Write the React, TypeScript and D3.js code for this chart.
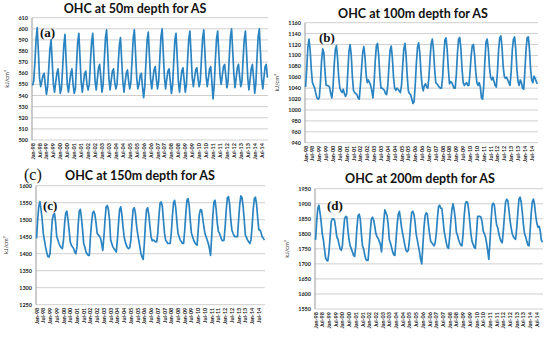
import * as d3 from 'd3';

// monthly OHC, Jan-98 .. Dec-14 (kJ/cm²), 12 values per row
const ohc50 = [
  549, 553, 570, 590, 601, 580, 556, 548, 553, 558, 560, 550,
  541, 548, 565, 582, 590, 570, 550, 543, 552, 560, 564, 552,
  542, 547, 565, 585, 595, 572, 550, 543, 552, 560, 564, 550,
  542, 546, 568, 588, 596, 574, 552, 543, 552, 560, 562, 550,
  545, 550, 570, 588, 596, 575, 553, 545, 555, 565, 568, 556,
  543, 550, 572, 592, 599, 578, 555, 545, 554, 562, 564, 552,
  546, 550, 568, 585, 592, 572, 553, 543, 552, 560, 563, 553,
  546, 552, 572, 592, 599, 578, 556, 546, 550, 558, 560, 548,
  538, 548, 570, 590, 597, 576, 555, 546, 555, 563, 566, 555,
  546, 553, 574, 593, 600, 578, 556, 546, 555, 562, 564, 553,
  542, 549, 570, 590, 596, 575, 553, 543, 553, 562, 565, 554,
  543, 550, 572, 591, 598, 577, 556, 548, 556, 563, 565, 555,
  548, 553, 574, 592, 599, 578, 557, 548, 556, 564, 566, 552,
  537, 549, 572, 591, 598, 578, 558, 550, 558, 566, 568, 558,
  547, 553, 574, 593, 600, 580, 559, 547, 556, 565, 568, 557,
  548, 553, 573, 591, 598, 578, 556, 545, 554, 564, 568, 556,
  542, 551, 574, 593, 600, 578, 555, 546, 556, 566, 568, 556,
];

const ohc100 = [
  1042, 1075, 1115, 1130, 1110, 1075, 1050, 1045, 1040, 1030, 1022, 1020,
  1022, 1050, 1090, 1112, 1105, 1070, 1045, 1045, 1044, 1042, 1030, 1022,
  1040, 1080, 1110, 1118, 1095, 1060, 1040, 1035, 1032, 1038, 1030, 1025,
  1030, 1070, 1108, 1120, 1100, 1060, 1035, 1032, 1030, 1028, 1022, 1020,
  1045, 1075, 1105, 1116, 1098, 1065, 1050, 1055, 1050, 1045, 1035, 1022,
  1050, 1090, 1118, 1122, 1100, 1065, 1040, 1040, 1038, 1036, 1030, 1028,
  1045, 1080, 1110, 1117, 1095, 1060, 1040, 1036, 1040, 1038, 1035, 1032,
  1045, 1080, 1112, 1122, 1100, 1062, 1035, 1030, 1028, 1020, 1012, 1015,
  1045, 1085, 1115, 1123, 1105, 1070, 1045, 1035, 1045, 1048, 1042, 1040,
  1060, 1095, 1122, 1130, 1110, 1075, 1050, 1048, 1045, 1042, 1040, 1040,
  1060, 1100, 1128, 1132, 1110, 1075, 1048, 1052, 1050, 1045, 1040, 1040,
  1065, 1105, 1130, 1133, 1112, 1075, 1050, 1045, 1048, 1050, 1045, 1045,
  1070, 1100, 1118, 1120, 1100, 1070, 1050, 1045, 1050, 1042, 1022, 1020,
  1045, 1090, 1125, 1130, 1112, 1078, 1060, 1055, 1060, 1052, 1045, 1042,
  1070, 1110, 1132, 1136, 1115, 1080, 1062, 1058, 1060, 1055, 1050, 1045,
  1070, 1110, 1130, 1134, 1112, 1075, 1052, 1045, 1055, 1050, 1040, 1038,
  1070, 1110, 1132, 1134, 1112, 1075, 1055, 1050, 1062, 1058, 1052, 1048,
];

const ohc150 = [
  1445, 1500, 1540, 1553, 1530, 1500, 1460, 1440, 1420, 1405, 1392, 1390,
  1400, 1450, 1500, 1515, 1518, 1490, 1450, 1440, 1430, 1422, 1418, 1415,
  1440, 1490, 1520, 1525, 1500, 1470, 1435, 1425, 1420, 1415, 1405, 1400,
  1420, 1480, 1525, 1530, 1505, 1470, 1430, 1420, 1405, 1400, 1395, 1395,
  1450, 1490, 1520, 1525, 1515, 1490, 1460, 1455, 1452, 1445, 1430, 1410,
  1450, 1500, 1538, 1542, 1530, 1500, 1440, 1430, 1420, 1415, 1410, 1405,
  1440, 1490, 1530, 1538, 1515, 1480, 1450, 1435, 1425, 1418, 1415, 1418,
  1440, 1490, 1530, 1535, 1520, 1485, 1460, 1440, 1420, 1400, 1390, 1383,
  1430, 1490, 1530, 1535, 1515, 1480, 1450, 1438, 1440, 1438, 1435, 1435,
  1460, 1510, 1548, 1552, 1540, 1500, 1460, 1440, 1435, 1430, 1430, 1430,
  1460, 1510, 1550, 1557, 1535, 1495, 1460, 1450, 1440, 1435, 1430, 1430,
  1470, 1520, 1558, 1562, 1540, 1495, 1460, 1450, 1440, 1432, 1428, 1425,
  1470, 1515, 1530, 1528, 1505, 1480, 1460, 1450, 1440, 1430, 1415, 1395,
  1450, 1510, 1552, 1557, 1530, 1490, 1465, 1460, 1450, 1440, 1438, 1440,
  1480, 1530, 1565, 1568, 1545, 1500, 1470, 1460, 1452, 1450, 1450, 1450,
  1500, 1545, 1570, 1565, 1540, 1500, 1455, 1448, 1440, 1435, 1430, 1440,
  1480, 1530, 1562, 1566, 1545, 1505, 1470, 1470, 1462, 1450, 1445, 1440,
];

const ohc200 = [
  1780, 1840, 1885, 1895, 1870, 1840, 1800, 1780, 1750, 1720, 1712, 1710,
  1740, 1790, 1840, 1850, 1850, 1845, 1820, 1790, 1782, 1765, 1750, 1745,
  1760, 1810, 1850, 1858, 1855, 1810, 1780, 1760, 1750, 1740, 1728, 1725,
  1760, 1820, 1860, 1865, 1850, 1800, 1760, 1750, 1730, 1715, 1712, 1712,
  1760, 1810, 1850, 1855, 1845, 1825, 1800, 1790, 1785, 1775, 1765, 1740,
  1790, 1840, 1880, 1870, 1860, 1830, 1780, 1770, 1755, 1740, 1730, 1728,
  1780, 1830, 1865, 1875, 1850, 1820, 1800, 1780, 1760, 1745, 1740, 1745,
  1780, 1830, 1870, 1875, 1865, 1840, 1800, 1780, 1760, 1740, 1715, 1700,
  1760, 1820, 1860, 1870, 1865, 1830, 1800, 1775, 1770, 1765, 1760, 1770,
  1800, 1850, 1890, 1895, 1885, 1885, 1850, 1810, 1790, 1770, 1755, 1752,
  1790, 1840, 1880, 1900, 1880, 1850, 1805, 1795, 1780, 1770, 1762, 1760,
  1800, 1860, 1900, 1907, 1905, 1880, 1840, 1800, 1775, 1765, 1755, 1752,
  1800, 1858, 1858, 1858, 1855, 1840, 1810, 1800, 1790, 1770, 1745, 1715,
  1770, 1840, 1895, 1902, 1895, 1860, 1830, 1820, 1800, 1785, 1775, 1770,
  1810, 1860, 1905, 1915, 1910, 1880, 1845, 1820, 1800, 1790, 1785, 1782,
  1820, 1870, 1915, 1922, 1905, 1870, 1830, 1800, 1790, 1775, 1762, 1760,
  1810, 1870, 1908, 1915, 1895, 1860, 1835, 1822, 1825, 1810, 1780, 1772,
];

const years = ['98', '99', '00', '01', '02', '03', '04', '05', '06', '07', '08', '09', '10', '11', '12', '13', '14'];
const monthNames = ['Jan', 'Feb', 'Mar', 'Apr', 'May', 'Jun', 'Jul', 'Aug', 'Sep', 'Oct', 'Nov', 'Dec'];
const months = years.flatMap((y) => monthNames.map((m) => `${m}-${y}`));
const tickMonths = months.filter((m) => m.startsWith('Jan') || m.startsWith('Jul'));

const ticks50 = d3.range(500, 611, 10);
const ticks100 = d3.range(940, 1161, 20);
const ticks150 = d3.range(1250, 1601, 50);
const ticks200 = d3.range(1550, 1951, 50);

const lineColor = '#2a84c2';
const gridColor = '#cfcfcf';
const sans = 'Lato, "Open Sans", sans-serif';

interface PanelProps {
  values: number[];
  yTicks: number[];
  title: string;
  tag: string;
  left: number;
  right: number;
  top: number;
  bottom: number;
  titleX: number;
  titleY: number;
  labelX: number;
  tagX: number;
  tagY: number;
}

function Panel({ values, yTicks, title, tag, left, right, top, bottom, titleX, titleY, labelX, tagX, tagY }: PanelProps) {
  const x = d3.scalePoint<string>().domain(months).range([left, right]).padding(0.5);
  const y = d3
    .scaleLinear()
    .domain([yTicks[0], yTicks[yTicks.length - 1]])
    .range([bottom, top]);

  const line = d3
    .line<number>()
    .x((_, i) => x(months[i])!)
    .y((d) => y(d));

  return (
    <g>
      <text x={titleX} y={titleY} textAnchor="middle" fontFamily={sans} fontWeight="bold" fontSize={12.5} fill="#111">
        {title}
      </text>
      {yTicks.map((t) => (
        <g key={t}>
          <line x1={left} x2={right} y1={y(t)} y2={y(t)} stroke={gridColor} strokeWidth={1} />
          <text x={left - 4} y={y(t) + 2} textAnchor="end" fontFamily={sans} fontWeight="bold" fontSize={5.5} fill="#222">
            {t}
          </text>
        </g>
      ))}
      <line x1={left} x2={left} y1={top} y2={bottom} stroke="#999" />
      {tickMonths.map((m) => (
        <text
          key={m}
          transform={`translate(${x(m)! + 2},${bottom + 3}) rotate(-90)`}
          textAnchor="end"
          fontFamily={sans}
          fontWeight="bold"
          fontSize={5.5}
          fill="#222"
        >
          {m}
        </text>
      ))}
      <text
        transform={`translate(${labelX},${(top + bottom) / 2}) rotate(-90)`}
        textAnchor="middle"
        fontFamily={sans}
        fontSize={6}
        fill="#333"
      >
        kJ/cm²
      </text>
      <path d={line(values) ?? ''} fill="none" stroke={lineColor} strokeWidth={1.7} strokeLinejoin="round" />
      <text x={tagX} y={tagY} fontFamily='"Liberation Serif", "DejaVu Serif", serif' fontWeight="bold" fontSize={13} fill="#111">
        {tag}
      </text>
    </g>
  );
}

export default function App() {
  return (
    <div style={{ position: 'fixed', left: 0, top: 0 }}>
      <svg width={550} height={338} style={{ display: 'block', background: '#fff' }}>
        <Panel
          values={ohc50}
          yTicks={ticks50}
          title="OHC at 50m depth for AS"
          tag="(a)"
          left={32}
          right={268}
          top={17.7}
          bottom={140}
          titleX={135}
          titleY={13}
          labelX={9}
          tagX={40}
          tagY={37}
        />
        <Panel
          values={ohc100}
          yTicks={ticks100}
          title="OHC at 100m depth for AS"
          tag="(b)"
          left={305}
          right={538}
          top={22.7}
          bottom={142.7}
          titleX={413}
          titleY={18}
          labelX={279}
          tagX={319}
          tagY={42}
        />
        <Panel
          values={ohc150}
          yTicks={ticks150}
          title="OHC at 150m depth for AS"
          tag="(c)"
          left={36}
          right={265}
          top={185.7}
          bottom={304.7}
          titleX={140}
          titleY={180}
          labelX={8}
          tagX={43}
          tagY={210}
        />
        <Panel
          values={ohc200}
          yTicks={ticks200}
          title="OHC at 200m depth for AS"
          tag="(d)"
          left={315}
          right={543}
          top={188.7}
          bottom={309}
          titleX={420}
          titleY={183}
          labelX={289}
          tagX={327}
          tagY={210}
        />
        <text x={24} y={180} fontFamily='"Liberation Serif", "DejaVu Serif", serif' fontSize={16} fill="#111">
          (c)
        </text>
      </svg>
    </div>
  );
}
